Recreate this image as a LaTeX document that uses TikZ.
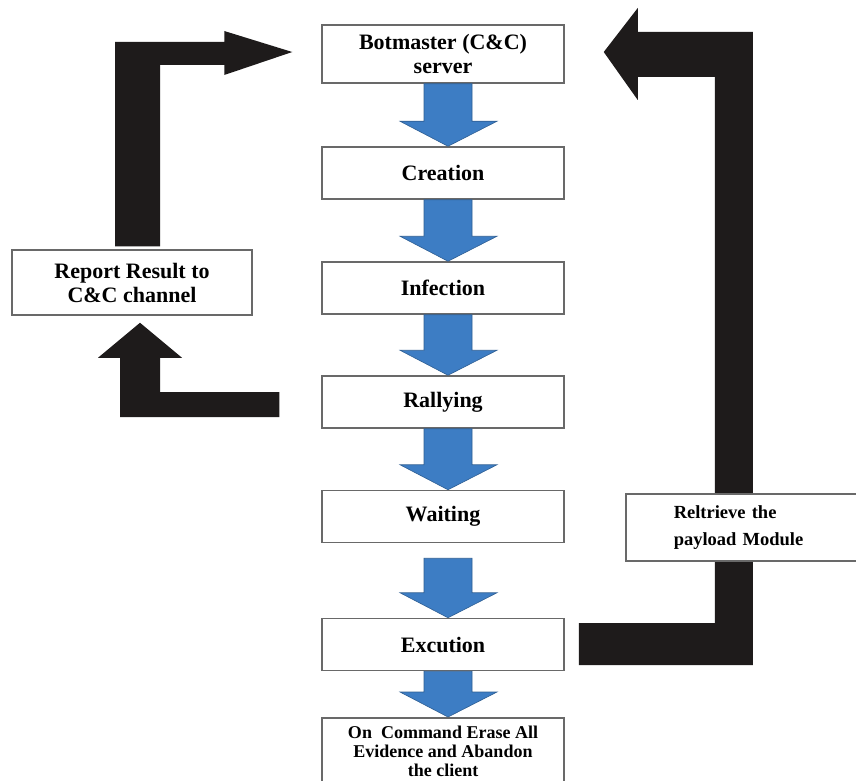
\documentclass[tikz,border=0pt]{standalone}
\usepackage{fontspec}
\setmainfont{Liberation Serif}
\usetikzlibrary{calc}

\definecolor{flowblue}{RGB}{61,125,196}
\definecolor{boxgray}{RGB}{105,105,105}
\definecolor{barblack}{RGB}{30,27,27}

% blue block arrow from the bottom of one stage to the top of the next
\newcommand{\flowarrow}[2]{%
  \filldraw[flowarrow] let \p1=(#1), \p2=(#2) in
    (\x1-19pt,\y1) -- (\x1+29pt,\y1) -- (\x1+29pt,\y2+25pt) -- (\x1+54pt,\y2+25pt)
    -- (\x1+5pt,\y2) -- (\x1-43pt,\y2+25pt) -- (\x1-19pt,\y2+25pt) -- cycle;}

\begin{document}
\begin{tikzpicture}[x=1pt, y=-1pt,
    stage/.style={draw=boxgray, line width=1.5pt, fill=white, minimum width=242pt,
        minimum height=52pt, align=center, font=\fontsize{22}{24}\selectfont\bfseries},
    flowarrow/.style={fill=flowblue, draw=flowblue!75!black, line width=0.6pt},
    bar/.style={fill=barblack}]
    \useasboundingbox (0, 0) rectangle (856, 781);
    \fill[white] (0, 0) rectangle (856, 781);

    \node[stage, minimum height=58pt] (bot) at (443, 54) {Botmaster (C\&C)\\server};
    \node[stage] (creation) at (443, 173) {Creation};
    \node[stage] (infection) at (443, 288) {Infection};
    \node[stage] (rally) at (443, 402) {Rallying};
    \node[stage] (wait) at (443, 516.5) {Waiting};
    \node[stage] (exec) at (443, 644.5) {Excution};
    \node[stage, anchor=north, minimum height=67pt, font=\fontsize{18}{19}\selectfont\bfseries]
        (erase) at (443, 717) {On~ Command Erase All\\Evidence and Abandon\\the client};
    \node[stage, minimum width=240pt, minimum height=65pt] (report) at (132, 282.5)
        {Report Result to\\C\&C channel};

    \flowarrow{bot.south}{creation.north}
    \flowarrow{creation.south}{infection.north}
    \flowarrow{infection.south}{rally.north}
    \flowarrow{rally.south}{wait.north}
    \flowarrow{$(wait.south)+(0,15)$}{exec.north}
    \flowarrow{exec.south}{erase.north}

    % report back to the botmaster
    \fill[bar] ($(report.north)+(-17,-3)$) -- ($(report.north |- bot.west)+(-17,-12)$)
        -- ($(bot.west)+(-97,-12)$) -- ($(bot.west)+(-97,-23)$) -- ($(bot.west)+(-29,-2)$)
        -- ($(bot.west)+(-97,21)$) -- ($(bot.west)+(-97,11)$)
        -- ($(report.north |- bot.west)+(28,11)$) -- ($(report.north)+(28,-3)$) -- cycle;

    % rallying to report
    \fill[bar] ($(report.south)+(8,7)$) -- ($(report.south)+(50,42)$) -- ($(report.south)+(28,42)$)
        -- ($(report.south |- rally.west)+(28,-10)$) -- ($(rally.west)+(-42,-10)$)
        -- ($(rally.west)+(-42,15)$) -- ($(report.south |- rally.west)+(-12,15)$)
        -- ($(report.south)+(-12,42)$) -- ($(report.south)+(-34,42)$) -- cycle;

    % execution back to the botmaster
    \fill[bar] ($(exec.east)+(14,-21.5)$) -- ($(exec.east)+(150,-21.5)$)
        -- ($(bot.east)+(150,23)$) -- ($(bot.east)+(73,23)$) -- ($(bot.east)+(73,46)$)
        -- ($(bot.east)+(39,-2)$) -- ($(bot.east)+(73,-46)$) -- ($(bot.east)+(73,-22)$)
        -- ($(bot.east)+(188,-22)$) -- ($(exec.east)+(188,20.5)$) -- ($(exec.east)+(14,20.5)$) -- cycle;

    \node[stage, anchor=north west, minimum width=0pt, text width=150pt, inner xsep=48pt,
        minimum height=67pt, align=left, font=\fontsize{18.5}{27}\selectfont\bfseries]
        (retrieve) at (625, 493) {Reltrieve the\\payload Module};
\end{tikzpicture}
\end{document}
